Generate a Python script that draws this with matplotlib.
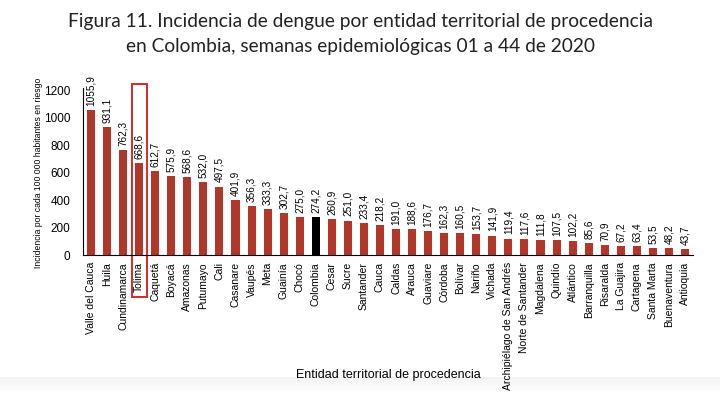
import numpy as np
import matplotlib.pyplot as plt
from matplotlib.patches import Rectangle
from matplotlib.transforms import blended_transform_factory

entidades = ["Valle del Cauca", "Huila", "Cundinamarca", "Tolima", "Caquetá", "Boyacá",
             "Amazonas", "Putumayo", "Cali", "Casanare", "Vaupés", "Meta", "Guainía",
             "Chocó", "Colombia", "Cesar", "Sucre", "Santander", "Cauca", "Caldas",
             "Arauca", "Guaviare", "Córdoba", "Bolívar", "Nariño", "Vichada",
             "Archipiélago de San Andrés", "Norte de Santander", "Magdalena", "Quindío",
             "Atlántico", "Barranquilla", "Risaralda", "La Guajira", "Cartagena",
             "Santa Marta", "Buenaventura", "Antioquia"]
incidencia = [1055.9, 931.1, 762.3, 668.6, 612.7, 575.9, 568.6, 532.0, 497.5, 401.9,
              356.3, 333.3, 302.7, 275.0, 274.2, 260.9, 251.0, 233.4, 218.2, 191.0,
              188.6, 176.7, 162.3, 160.5, 153.7, 141.9, 119.4, 117.6, 111.8, 107.5,
              102.2, 85.6, 70.9, 67.2, 63.4, 53.5, 48.2, 43.7]
y_ticks = [0, 200, 400, 600, 800, 1000, 1200]
resaltado = "Tolima"

narrow = ["Liberation Sans Narrow", "Liberation Sans", "DejaVu Sans"]

fig = plt.figure(figsize=(7.2, 3.93), dpi=100)

# faint grey band at the bottom of the page
bg = fig.add_axes([0, 0, 1, 0.04], zorder=-1)
grad = np.linspace(0.955, 1.0, 20).reshape(-1, 1)
bg.imshow(np.dstack([grad, grad, grad]), aspect="auto", extent=[0, 1, 0, 1])
bg.axis("off")

ax = fig.add_axes([0.1153, 0.351, 0.8472, 0.425])

# Bars (Colombia in black)
x = np.arange(len(entidades))
colores = ["black" if e == "Colombia" else "#b0372a" for e in entidades]
ax.bar(x, incidencia, width=0.5, color=colores)

# Value labels, rotated
for xi, v in zip(x, incidencia):
    ax.annotate(f"{v:.1f}".replace(".", ","), (xi, v), xytext=(0, 3),
                textcoords="offset points", rotation=90, ha="center", va="bottom",
                fontsize=7.2, family=narrow)

ax.set_xlim(-0.5, len(entidades) - 0.5)
ax.set_ylim(0, 1215)
ax.set_yticks(y_ticks)
ax.set_yticklabels([str(t) for t in y_ticks], family=narrow, fontsize=8.5)
ax.set_xticks(x)
ax.set_xticklabels(entidades, rotation=90, family=narrow, fontsize=7.5)
ax.tick_params(axis="both", length=0)
ax.tick_params(axis="y", pad=9)
ax.tick_params(axis="x", pad=5)
for s in ["top", "right"]:
    ax.spines[s].set_visible(False)
ax.spines["left"].set_color("black")
ax.spines["bottom"].set_color("black")

ax.set_ylabel("Incidencia por cada 100 000 habitantes en riesgo", family=narrow,
              fontsize=6.2)
ax.yaxis.set_label_coords(-0.066, 0.49)
fig.text(0.54, 0.045, "Entidad territorial de procedencia", ha="center", va="center",
         family=narrow, fontsize=9)

# Box around the highlighted department
i = entidades.index(resaltado)
trans = blended_transform_factory(ax.transData, ax.transAxes)
ax.add_patch(Rectangle((i - 0.47, -0.25), 0.94, 1.275, transform=trans, fill=False,
                       edgecolor="#d42a2a", lw=1.4, clip_on=False))

fig.text(0.5, 0.945, "Figura 11. Incidencia de dengue por entidad territorial de procedencia",
         ha="center", va="center", family=["Lato", "DejaVu Sans"], fontsize=13.8, color="#222222")
fig.text(0.5, 0.882, "en Colombia, semanas epidemiológicas 01 a 44 de 2020",
         ha="center", va="center", family=["Lato", "DejaVu Sans"], fontsize=13.8, color="#222222")

fig.savefig("out.png", dpi=100)
